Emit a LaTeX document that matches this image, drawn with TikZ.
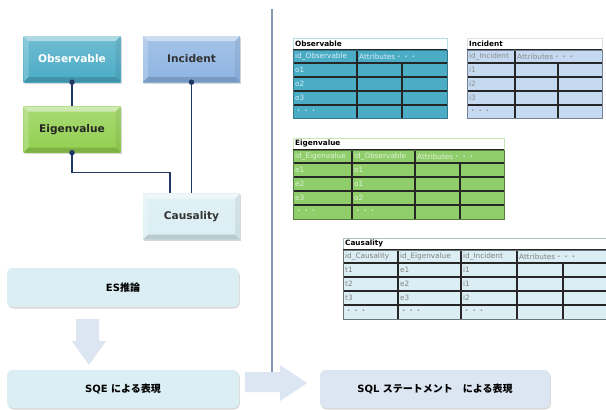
\documentclass[tikz,border=0pt]{standalone}
\usepackage{fontspec}
\setmainfont{DejaVu Sans}
\newfontfamily\cjk{Noto Sans CJK JP}
\usetikzlibrary{shadows}
\definecolor{cteal}{HTML}{4BACC6}
\definecolor{cinc}{HTML}{8DB4E2}
\definecolor{cinct}{HTML}{C5D9F1}
\definecolor{cgreen}{HTML}{92D050}
\definecolor{cgreent}{HTML}{8FCE6B}
\definecolor{ccau}{HTML}{DAEEF3}
\definecolor{cgray}{HTML}{DCE6F2}
\definecolor{cnavy}{HTML}{1F3864}
\definecolor{cdiv}{HTML}{8496B0}
\tikzset{
  bevel/.style={path picture={
    \coordinate (bnw) at (path picture bounding box.north west);
    \coordinate (bne) at (path picture bounding box.north east);
    \coordinate (bsw) at (path picture bounding box.south west);
    \coordinate (bse) at (path picture bounding box.south east);
    \fill[white,opacity=.45] (bnw) -- (bne) -- ([shift={(-5pt,-5pt)}]bne) -- ([shift={(5pt,-5pt)}]bnw) -- cycle;
    \fill[white,opacity=.2] (bnw) -- ([shift={(5pt,-5pt)}]bnw) -- ([shift={(5pt,5pt)}]bsw) -- (bsw) -- cycle;
    \fill[black,opacity=.06] (bne) -- ([shift={(-5pt,-5pt)}]bne) -- ([shift={(-5pt,5pt)}]bse) -- (bse) -- cycle;
    \fill[black,opacity=.15] (bsw) -- (bse) -- ([shift={(-5pt,5pt)}]bse) -- ([shift={(5pt,5pt)}]bsw) -- cycle;
  }},
  lbox/.style={minimum width=97pt, minimum height=46pt, inner sep=0pt,
    top color=#1!80!white, bottom color=#1, bevel,
    drop shadow={opacity=.3, shadow xshift=1pt, shadow yshift=-1.5pt},
    font=\bfseries\fontsize{10.6}{12}\selectfont},
  rbox/.style={rounded corners=6pt, fill=#1, minimum width=232pt, minimum height=39pt,
    drop shadow={opacity=.3, shadow xshift=0.8pt, shadow yshift=-1.5pt},
    font=\bfseries\fontsize{10}{12}\selectfont},
  conn/.style={draw=cnavy, line width=1.2pt},
  dot/.style={circle, fill=cnavy, inner sep=0pt, minimum size=5.5pt},
  tline/.style={draw=black!85, line width=1.2pt},
  cell/.style={anchor=west, inner sep=0pt, font=\fontsize{7.3}{8}\selectfont},
  ttl/.style={anchor=west, inner sep=0pt, font=\bfseries\fontsize{7.3}{8}\selectfont},
  bigarrow/.style={fill=cgray, draw=none}
}
\begin{document}
\begin{tikzpicture}[x=1pt,y=-1pt]
\useasboundingbox (0,0) rectangle (606,410);
\fill[white] (0,0) rectangle (606,410);

% ---------- left ER diagram ----------
\node[lbox=cteal, text=white] (obs) at (72,59) {Observable};
\node[lbox=cinc, text=black!80] (inc) at (191.5,59) {Incident};
\node[lbox=cgreen, text=black!85] (eig) at (72,129.5) {Eigenvalue};
\node[lbox=ccau, text=black!80] (cau) at (191.5,216.5) {Causality};

\draw[conn] (obs.south) -- (eig.north);
\draw[conn] (inc.south) -- (inc.south |- cau.north);
\draw[conn] (eig.south) -- ++(0,20) -| ([xshift=-21.5pt]cau.north);
\node[dot] (d1) at (obs.south) {};
\node[dot] (d2) at (inc.south) {};
\node[dot] (d3) at (eig.south) {};

% ---------- divider ----------
\coordinate (divtop) at (272,9);
\coordinate (divbot) at (272,375);
\draw[cdiv, line width=1.2pt] (divtop) -- (divbot);

% ---------- bottom flow ----------
\node[rbox=ccau] (es) at (123,287.5) {ES\cjk{推論}};
\node[rbox=ccau, minimum height=38pt] (sqe) at (123,389) {SQE \cjk{による表現}};
\node[rbox=cgray, minimum width=230pt, minimum height=38pt] (sql) at (435,389) {SQL \cjk{ステートメント　による表現}};

\fill[bigarrow] (76,319) -- (99,319) -- (99,341) -- (106,341) -- (89,365) -- (72,341) -- (76,341) -- cycle;
\fill[bigarrow] (245,372) -- (280,372) -- (280,365) -- (307,383) -- (280,401) -- (280,392) -- (245,392) -- cycle;

% ---------- Observable table ----------
\draw[cteal!40, fill=white] (293,38) rectangle (447,50);
\node[ttl] (tobs) at (295,44) {Observable};
\fill[cteal] (293,50) rectangle (447,118);
\foreach \yy in {63,77,91,105} \draw[tline] (293,\yy) -- (447,\yy);
\draw[tline] (293,50) -- (447,50);
\draw[tline] (357,50) -- (357,118);
\draw[tline] (402,63) -- (402,118);
\draw[cteal!70!black, line width=0.6pt] (293,50) rectangle (447,118);
\begin{scope}[every node/.append style={text=white!78!cteal}]
\node[cell] (obh1) at (295,56.5) {id\_Observable};
\node[cell] (obh2) at (359,56.5) {Attributes\cjk{・・・}};
\node[cell] (ob1) at (295,70) {o1};
\node[cell] (ob2) at (295,84) {o2};
\node[cell] (ob3) at (295,98) {o3};
\node[cell] (ob4) at (295,111.5) {\cjk{・・・}};
\end{scope}

% ---------- Incident table ----------
\draw[cinct!80!black!40, fill=white] (467,38) rectangle (602,50);
\node[ttl] (tinc) at (469,44) {Incident};
\fill[cinct] (467,50) rectangle (602,118);
\foreach \yy in {63,77,91,105} \draw[tline] (467,\yy) -- (602,\yy);
\draw[tline] (467,50) -- (602,50);
\draw[tline] (515,50) -- (515,118);
\draw[tline] (558,63) -- (558,118);
\draw[cinct!60!black, line width=0.6pt] (467,50) rectangle (602,118);
\begin{scope}[every node/.append style={text=black!45}]
\node[cell] (inh1) at (469,56.5) {id\_Incident};
\node[cell] (inh2) at (517,56.5) {Attributes\cjk{・・・}};
\node[cell] (in1) at (469,70) {i1};
\node[cell] (in2) at (469,84) {i2};
\node[cell] (in3) at (469,98) {i3};
\node[cell] (in4) at (469,111.5) {\cjk{・・・}};
\end{scope}

% ---------- Eigenvalue table ----------
\draw[cgreent!50, fill=white] (293,138) rectangle (504,150);
\node[ttl] (teig) at (295,144) {Eigenvalue};
\fill[cgreent] (293,150) rectangle (504,219);
\foreach \yy in {163,177,191,205} \draw[tline] (293,\yy) -- (504,\yy);
\draw[tline] (293,150) -- (504,150);
\draw[tline] (352,150) -- (352,219);
\draw[tline] (415,150) -- (415,219);
\draw[tline] (460,163) -- (460,219);
\draw[cgreent!60!black, line width=0.6pt] (293,150) rectangle (504,219);
\begin{scope}[every node/.append style={text=white!72!cgreent}]
\node[cell] (egh1) at (295,156.5) {id\_Eigenvalue};
\node[cell] (egh2) at (354,156.5) {id\_Observable};
\node[cell] (egh3) at (417,156.5) {Attributes\cjk{・・・}};
\node[cell] (eg1) at (295,170) {e1};
\node[cell] (eg2) at (295,184) {e2};
\node[cell] (eg3) at (295,198) {e3};
\node[cell] (eg4) at (295,212) {\cjk{・・・}};
\node[cell] (ego1) at (354,170) {o1};
\node[cell] (ego2) at (354,184) {o1};
\node[cell] (ego3) at (354,198) {o2};
\node[cell] (ego4) at (354,212) {\cjk{・・・}};
\end{scope}

% ---------- Causality table ----------
\draw[ccau!80!black, fill=white] (343,238) rectangle (606,250);
\node[ttl] (tcau) at (345,244) {Causality};
\fill[ccau] (343,250) rectangle (606,319);
\foreach \yy in {263,277,291,305} \draw[tline] (343,\yy) -- (606,\yy);
\draw[tline] (343,250) -- (606,250);
\draw[tline] (398,250) -- (398,319);
\draw[tline] (461,250) -- (461,319);
\draw[tline] (517,250) -- (517,319);
\draw[tline] (563,263) -- (563,319);
\draw[ccau!50!black, line width=0.6pt] (343,250) rectangle (606,319);
\begin{scope}[every node/.append style={text=black!50}]
\node[cell] (cah1) at (345,256.5) {id\_Causality};
\node[cell] (cah2) at (400,256.5) {id\_Eigenvalue};
\node[cell] (cah3) at (463,256.5) {id\_Incident};
\node[cell] (cah4) at (519,256.5) {Attributes\cjk{・・・}};
\node[cell] (ca1) at (345,270) {t1};
\node[cell] (ca2) at (345,284) {t2};
\node[cell] (ca3) at (345,298) {t3};
\node[cell] (ca4) at (345,312) {\cjk{・・・}};
\node[cell] (cae1) at (400,270) {e1};
\node[cell] (cae2) at (400,284) {e2};
\node[cell] (cae3) at (400,298) {e3};
\node[cell] (cae4) at (400,312) {\cjk{・・・}};
\node[cell] (cai1) at (463,270) {i1};
\node[cell] (cai2) at (463,284) {i1};
\node[cell] (cai3) at (463,298) {i2};
\node[cell] (cai4) at (463,312) {\cjk{・・・}};
\end{scope}
\end{tikzpicture}
\end{document}
